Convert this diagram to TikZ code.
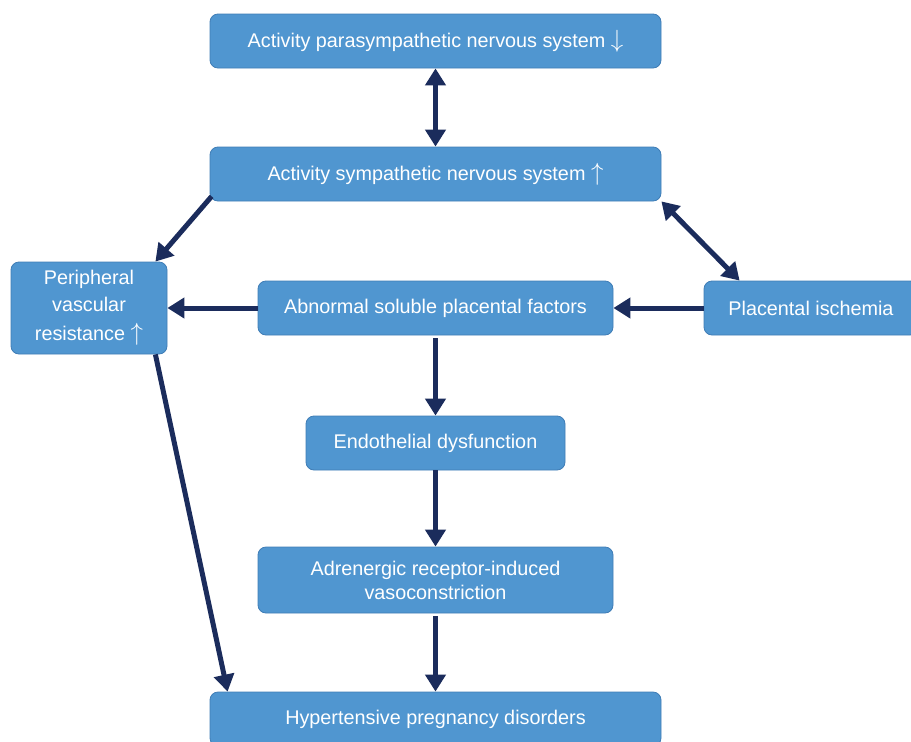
\documentclass[tikz,border=0pt]{standalone}
\usepackage{fontspec}
\setmainfont{Liberation Sans}
\usetikzlibrary{arrows.meta,calc}
\definecolor{boxfill}{HTML}{5096D0}
\definecolor{boxline}{HTML}{3F7DB6}
\definecolor{arr}{HTML}{1B2C5C}
\tikzset{
  fbox/.style={draw=boxline, line width=0.8pt, fill=boxfill, rounded corners=8pt, text=white,
    font=\fontsize{19.8}{24}\selectfont, align=center, inner sep=0pt},
  con/.style={draw=arr, line width=5pt, -{Triangle[length=17pt,width=20pt]}},
  bicon/.style={draw=arr, line width=5pt, {Triangle[length=17pt,width=20pt]}-{Triangle[length=17pt,width=20pt]}},
}
\newcommand{\bigarr}[1]{{\fontsize{28}{28}\selectfont$#1$}}
\begin{document}
\begin{tikzpicture}[x=1pt,y=-1pt]
\useasboundingbox (0,0) rectangle (911,742);
\fill[white] (0,0) rectangle (911,742);
\node[fbox, minimum width=451pt, minimum height=54pt] (para) at (435.5,41) {\raisebox{-3pt}{Activity parasympathetic nervous system \bigarr{\downarrow}}};
\node[fbox, minimum width=451pt, minimum height=54pt] (symp) at (435.5,174) {\raisebox{-3pt}{Activity sympathetic nervous system \bigarr{\uparrow}}};
\node[fbox, minimum width=156pt, minimum height=92pt] (per) at (89,308) {Peripheral\\[3pt] vascular\\[5pt] resistance \bigarr{\uparrow}};
\node[fbox, minimum width=355pt, minimum height=54pt] (abn) at (435.5,308) {Abnormal soluble placental factors};
\node[fbox, minimum width=214pt, minimum height=54pt] (plac) at (811,308) {Placental ischemia};
\node[fbox, minimum width=259pt, minimum height=54pt] (endo) at (435.5,443) {Endothelial dysfunction};
\node[fbox, minimum width=355pt, minimum height=66pt] (adr) at (435.5,580) {Adrenergic receptor-induced\\ vasoconstriction};
\node[fbox, minimum width=451pt, minimum height=54pt] (hyp) at (435.5,719) {Hypertensive pregnancy disorders};

\draw[bicon] (para.south) -- (symp.north);
\draw[con] ($(symp.south west)+(2,-5)$) -- ($(per.north east)+(-12,0)$);
\draw[bicon] (symp.south east) -- ($(plac.north west)+(36,0)$);
\draw[con] (abn.west) -- (per.east);
\draw[con] (plac.west) -- (abn.east);
\draw[con] ($(abn.south)+(0,3)$) -- (endo.north);
\draw[con] (endo.south) -- (adr.north);
\draw[con] ($(adr.south)+(0,3)$) -- (hyp.north);
\draw[con] ($(per.south east)+(-12,0)$) -- ($(hyp.north west)+(18,0)$);
\end{tikzpicture}
\end{document}
